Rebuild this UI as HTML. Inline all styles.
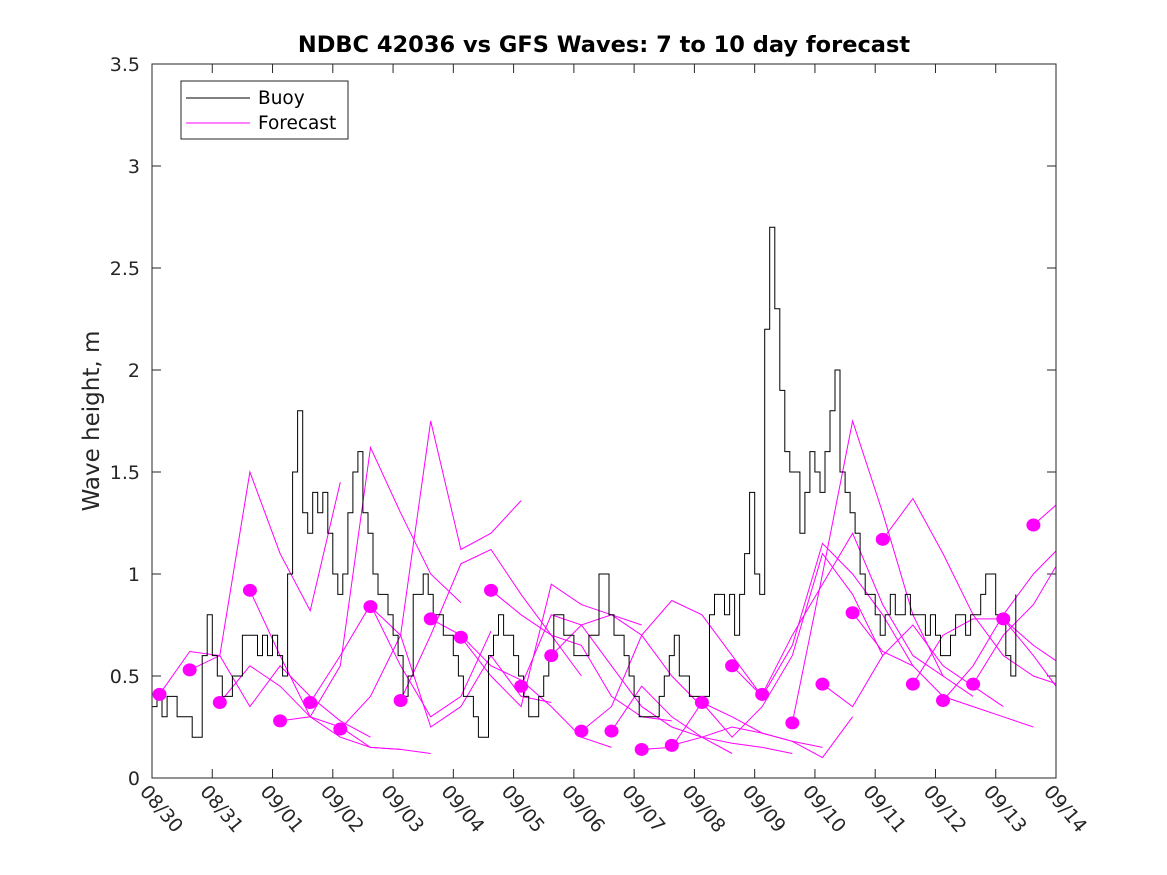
<!DOCTYPE html>
<html><head><meta charset="utf-8"><style>
html,body{margin:0;padding:0;background:#fff;}
svg{display:block;font-family:"DejaVu Sans","Liberation Sans",sans-serif;}
</style></head><body>
<svg id="chart" width="1167" height="875" viewBox="0 0 1167 875" xmlns="http://www.w3.org/2000/svg">
<rect width="1167" height="875" fill="#fff"/>
<defs><clipPath id="plotclip"><rect x="152" y="64" width="904" height="714"/></clipPath></defs>
<text x="604" y="52" text-anchor="middle" font-size="22.5" font-weight="bold" fill="#000">NDBC 42036 vs GFS Waves: 7 to 10 day forecast</text>
<text transform="translate(99,421) rotate(-90)" text-anchor="middle" font-size="23" fill="#262626">Wave height, m</text>
<g id="axes"></g>
<g id="series" clip-path="url(#plotclip)"></g>
<rect x="152" y="64" width="904" height="714" fill="none" stroke="#262626" stroke-width="1"/>
<g>
<rect x="181" y="81" width="167" height="58" fill="#fff" stroke="#262626" stroke-width="1"/>
<line x1="186" y1="98" x2="250" y2="98" stroke="#000" stroke-width="1"/>
<text x="258" y="104" font-size="18.5" fill="#000">Buoy</text>
<line x1="186" y1="123" x2="250" y2="123" stroke="#ff00ff" stroke-width="1"/>
<text x="258" y="129" font-size="18.5" fill="#000">Forecast</text>
</g>
</svg>
<script>
const xTickLabels = ["08/30","08/31","09/01","09/02","09/03","09/04","09/05","09/06","09/07","09/08","09/09","09/10","09/11","09/12","09/13","09/14"];
const yTicks = [0,0.5,1,1.5,2,2.5,3,3.5];
const yTickLabels = ["0","0.5","1","1.5","2","2.5","3","3.5"];
const buoyStepHours = 2;
const buoyValues = [.35,.4,.3,.4,.4,.3,.3,.3,.2,.2,.6,.8,.6,.5,.4,.4,.5,.5,.7,.7,.7,.6,.7,.6,.7,.6,.5,1.0,1.5,1.8,1.3,1.2,1.4,1.3,1.4,1.2,1.0,.9,1.0,1.3,1.5,1.6,1.3,1.2,1.0,.9,.9,.8,.7,.6,.4,.5,.9,.9,1.0,.9,.8,.8,.7,.7,.6,.5,.4,.4,.3,.2,.2,.6,.7,.8,.7,.7,.6,.5,.4,.3,.3,.4,.5,.6,.8,.8,.7,.7,.6,.6,.6,.7,.7,1.0,1.0,.8,.7,.7,.6,.5,.4,.3,.3,.3,.3,.4,.5,.6,.7,.5,.5,.4,.4,.4,.4,.8,.9,.9,.8,.9,.7,.9,1.1,1.4,1.0,.9,2.2,2.7,2.3,1.9,1.6,1.5,1.5,1.2,1.4,1.6,1.5,1.4,1.6,1.8,2.0,1.5,1.4,1.3,1.2,1.0,.9,.9,.8,.7,.8,.9,.8,.8,.9,.8,.8,.8,.7,.8,.7,.6,.6,.7,.8,.8,.7,.8,.8,.9,1.0,1.0,.8,.8,.6,.5,.9];
const forecastStartDays = [0.125,0.625,1.125,1.625,2.125,2.625,3.125,3.625,4.125,4.625,5.125,5.625,6.125,6.625,7.125,7.625,8.125,8.625,9.125,9.625,10.125,10.625,11.125,11.625,12.125,12.625,13.125,13.625,14.125,14.625];
const forecastDots = [.41,.53,.37,.92,.28,.37,.24,.84,.38,.78,.69,.92,.45,.60,.23,.23,.14,.16,.37,.55,.41,.27,.46,.81,1.17,.46,.38,.46,.78,1.24];
const forecastStepDays = 0.5;
const forecastRuns = [
[.41,.62,.60,1.50,1.10,.82,1.45],
[.53,.60,.35,.55,.40,.28,.20],
[.37,.55,.45,.30,.20,.15,.14],
[.92,.60,.30,.25,.15,.14,.12],
[.28,.30,.55,1.62,1.30,1.00,.86],
[.37,.60,.85,.55,.30,.40,.72],
[.24,.40,.70,1.75,1.12,1.20,1.36],
[.84,.70,.25,.35,.60,.40,.37],
[.38,.70,1.05,1.12,.90,.70,.50],
[.78,.70,.55,.48,.35,.20,.15],
[.69,.50,.35,.95,.85,.80,.75],
[.92,.80,.70,.65,.40,.30,.28],
[.45,.80,.75,.80,.70,.50,.35],
[.60,.75,.55,.35,.25,.20,.12],
[.23,.35,.70,.87,.80,.60,.40],
[.23,.45,.30,.20,.17,.15,.12],
[.14,.15,.37,.30,.22,.18,.15],
[.16,.20,.25,.22,.18,.10,.30],
[.37,.20,.35,.60,1.10,.90,.60],
[.55,.40,.65,1.15,1.00,.80,.55],
[.41,.70,.95,1.20,.85,.60,.50],
[.27,1.00,1.75,1.30,.80,.50,.40],
[.46,.35,.60,.75,.55,.45,.35],
[.81,.62,.55,.40,.35,.30,.25],
[1.17,1.37,1.10,.80,.60,.50,.45],
[.46,.70,.78,.78,.65,.55,.70],
[.38,.55,.80,1.00,1.15,1.10,1.10],
[.46,.70,.85,1.10,2.60,2.60,2.60],
[.78,.60,.40,.45,.45,.40,.40],
[1.24,1.37,1.10,1.00,1.00,1.00,1.00]
];
const X0=152,X1=1056,Y0=778,Y1=64,DAYS=15,YMAX=3.5;
const xs=d=>X0+(X1-X0)*d/DAYS;
const ys=v=>Y0-(Y0-Y1)*v/YMAX;
const NS="http://www.w3.org/2000/svg";
const axes=document.getElementById('axes'), ser=document.getElementById('series');
function mk(tag,attrs,parent){const e=document.createElementNS(NS,tag);for(const k in attrs)e.setAttribute(k,attrs[k]);parent.appendChild(e);return e;}
xTickLabels.forEach((lab,i)=>{
  const x=xs(i);
  const t1=mk('line',{x1:x,y1:Y0,x2:x,y2:Y0-9,stroke:'#262626'},axes);
  
  
  mk('line',{x1:x,y1:Y1,x2:x,y2:Y1+9,stroke:'#262626'},axes);
  const t=mk('text',{transform:`translate(${x-13},${Y0+14}) rotate(50)`,'font-size':19,fill:'#262626'},axes);
  
  
  t.textContent=lab;
});
yTicks.forEach((v,i)=>{
  const y=ys(v);
  const l=mk('line',{x1:X0,y1:y,x2:X0+9,y2:y,stroke:'#262626'},axes);
  
  
  mk('line',{x1:X1,y1:y,x2:X1-9,y2:y,stroke:'#262626'},axes);
  const t=mk('text',{x:X0-12,y:y+7,'text-anchor':'end','font-size':19,fill:'#262626'},axes);
  
  
  t.textContent=yTickLabels[i];
});
forecastRuns.forEach((run,k)=>{
  const pts=run.map((v,j)=>xs(forecastStartDays[k]+j*forecastStepDays).toFixed(1)+','+ys(v).toFixed(1)).join(' ');
  const p=mk('polyline',{points:pts,fill:'none',stroke:'#ff00ff','stroke-width':1},ser);
  
  
});
let d='';
buoyValues.forEach((v,i)=>{
  const x=xs(i*buoyStepHours/24), y=ys(v);
  d+= i===0?`M${x.toFixed(1)},${y.toFixed(1)}`:`H${x.toFixed(1)}V${y.toFixed(1)}`;
});
const bl=mk('path',{d:d,fill:'none',stroke:'#000','stroke-width':1},ser);


forecastDots.forEach((v,k)=>{
  const c=mk('ellipse',{cx:xs(forecastStartDays[k]),cy:ys(v),rx:7,ry:6.5,fill:'#ff00ff'},ser);
  
  
});
</script>
</body></html>
